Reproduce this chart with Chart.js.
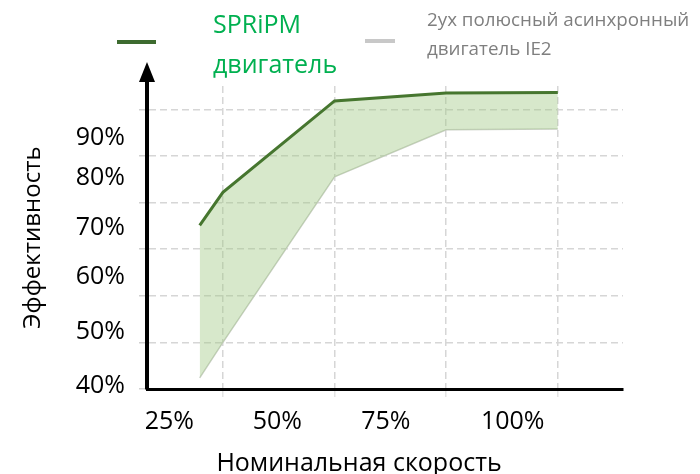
<!DOCTYPE html>
<html>
<head>
<meta charset="utf-8">
<script src="https://cdn.jsdelivr.net/npm/chart.js@4.4.1/dist/chart.umd.min.js"></script>
<style>
  body { margin: 0; background: #fff; font-family: 'Open Sans', sans-serif; }
  #wrap { position: relative; width: 700px; height: 474px; }
  .lg { position: absolute; white-space: nowrap; line-height: 1; }
  .dash { position: absolute; height: 4px; }
</style>
</head>
<body>
<div id="wrap">
  <canvas id="effChart"></canvas>
  <div class="dash" style="left:117px; top:40px; width:39px; background:#3d6b2f;"></div>
  <div class="lg" style="left:213px; top:11px; font-size:25px; color:#00b050;">SPRiPM</div>
  <div class="lg" style="left:213px; top:51px; font-size:25px; color:#00b050;">двигатель</div>
  <div class="dash" style="left:365px; top:39px; width:30px; background:#c8c8c8;"></div>
  <div class="lg" style="left:427px; top:10px; font-size:18.8px; color:#7f7f7f;">2ух полюсный асинхронный</div>
  <div class="lg" style="left:427px; top:39px; font-size:18.8px; color:#7f7f7f;">двигатель IE2</div>
</div>
<script>
// nominal speed, in % of the x scale
const speeds = [19.8, 25, 50, 75, 100];
// efficiency, %
const spripm = [75.1, 82.2, 101.8, 103.5, 103.6];
const ie2 = [42.4, 50, 85.5, 95.6, 95.8];

const xGrid = [25, 50, 75, 100];
const yGrid = [40, 50, 60, 70, 80, 90, 100];

// tick labels and where they sit on the scales (they are offset from the grid in the original)
const xTickLabels = ['25%', '50%', '75%', '100%'];
const xTickAt = [13.0, 37.2, 61.5, 89.9];
const yTickLabels = ['40%', '50%', '60%', '70%', '80%', '90%'];
const yTickAt = [40.6, 52.2, 64.0, 74.5, 85.2, 93.9];

const toPoints = (vals) => vals.map((v, i) => ({ x: speeds[i], y: v }));

// vertical axis arrow head above the chart area
const axisArrow = {
    id: 'axisArrow',
    afterDraw(chart) {
        const ctx = chart.ctx;
        const x = chart.scales.x.left;
        const top = chart.chartArea.top;
        ctx.save();
        ctx.strokeStyle = '#000';
        ctx.lineWidth = 4;
        ctx.beginPath();
        ctx.moveTo(x, top + 2);
        ctx.lineTo(x, top - 6);
        ctx.stroke();
        ctx.fillStyle = '#000';
        ctx.beginPath();
        ctx.moveTo(x, top - 24);
        ctx.lineTo(x - 8, top - 4);
        ctx.lineTo(x + 8, top - 4);
        ctx.closePath();
        ctx.fill();
        ctx.restore();
    }
};

const gridColor = '#d6d6d6';
const font25 = { family: 'Open Sans', size: 25 };

const ctx = document.getElementById('effChart').getContext('2d');
const effChart = new Chart(ctx, {
    type: 'line',
    data: {
        datasets: [{
            label: 'SPRiPM двигатель',
            data: toPoints(spripm),
            borderColor: '#46762f',
            borderWidth: 3,
            backgroundColor: 'rgba(160, 200, 130, 0.42)',
            fill: '+1',
            pointRadius: 0,
            tension: 0
        }, {
            label: '2ух полюсный асинхронный двигатель IE2',
            data: toPoints(ie2),
            borderColor: '#c9cfc4',
            borderWidth: 1.5,
            fill: false,
            pointRadius: 0,
            tension: 0
        }]
    },
    options: {
        responsive: true,
        maintainAspectRatio: false,
        animation: false,
        layout: { padding: { top: 86, right: 77, left: 0, bottom: 0 } },
        plugins: { legend: { display: false }, tooltip: { enabled: false } },
        scales: {
            x: {
                type: 'linear',
                min: 8,
                max: 114.6,
                weight: 0,
                afterBuildTicks: (s) => { s.ticks = xGrid.map(v => ({ value: v })); },
                afterFit: (s) => { s.height = 0; },
                ticks: { display: false },
                grid: { color: gridColor, lineWidth: 1.5, tickLength: 8, tickColor: '#e4e4e4' },
                border: { color: '#000', width: 3, dash: [7, 4] }
            },
            xLab: {
                type: 'linear',
                position: 'bottom',
                min: 8,
                max: 114.6,
                weight: 1,
                afterBuildTicks: (s) => { s.ticks = xTickAt.map(v => ({ value: v })); },
                afterFit: (s) => { s.height = 85; },
                ticks: {
                    padding: 10,
                    color: '#000',
                    font: font25,
                    maxRotation: 0,
                    autoSkip: false,
                    callback: (v, i) => xTickLabels[i]
                },
                grid: { display: false },
                border: { display: false },
                title: {
                    display: true,
                    text: 'Номинальная скорость        ',
                    color: '#000',
                    font: { family: 'Open Sans', size: 25, lineHeight: 0.8 },
                    padding: { top: 0, bottom: 0 }
                }
            },
            y: {
                type: 'linear',
                min: 40,
                max: 105,
                weight: 0,
                afterBuildTicks: (s) => { s.ticks = yGrid.map(v => ({ value: v })); },
                afterFit: (s) => { s.width = 10; },
                ticks: { display: false },
                grid: { color: gridColor, lineWidth: 1.5, tickLength: 8, tickColor: '#d0d0d0' },
                border: { color: '#000', width: 4, dash: [7, 4] }
            },
            yLab: {
                type: 'linear',
                position: 'left',
                min: 40,
                max: 105,
                weight: 1,
                afterBuildTicks: (s) => { s.ticks = yTickAt.map(v => ({ value: v })); },
                afterFit: (s) => { s.width = 137; },
                ticks: {
                    padding: 4,
                    color: '#000',
                    font: font25,
                    autoSkip: false,
                    callback: (v, i) => yTickLabels[i]
                },
                grid: { display: false },
                border: { display: false },
                title: {
                    display: true,
                    text: 'Эффективность',
                    color: '#000',
                    font: { family: 'Open Sans', size: 24 },
                    padding: { top: 19, bottom: 0 }
                }
            }
        }
    },
    plugins: [axisArrow]
});
</script>
</body>
</html>
